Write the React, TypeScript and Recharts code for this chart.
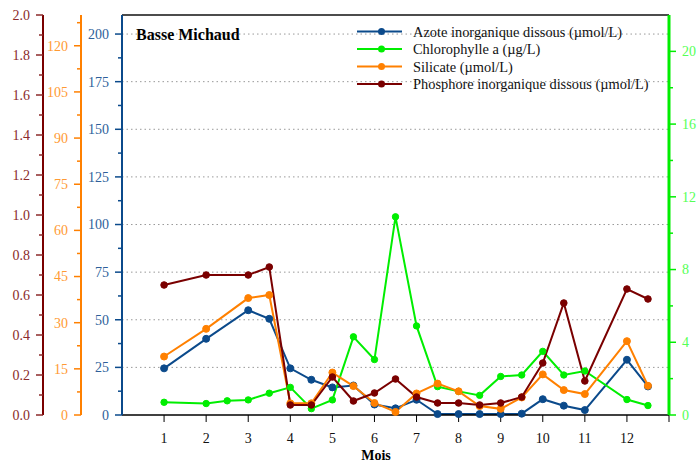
import React from 'react';
import { LineChart, Line, XAxis, YAxis, CartesianGrid, ReferenceLine, Legend, Customized } from 'recharts';

const mois = [1, 2, 3, 3.5, 4, 4.5, 5, 5.5, 6, 6.5, 7, 7.5, 8, 8.5, 9, 9.5, 10, 10.5, 11, 12, 12.5];
const azote = [24.5, 40, 55, 50.5, 24.5, 18.5, 14.5, 15.5, 5.5, 3.5, 8, 0.5, 0.5, 0.5, 0.5, 0.7, 8.3, 4.9, 2.6, 29, 15];
const silicate = [19, 28, 38, 39, 3.8, 3.8, 13.8, 9.4, 3.9, 1.0, 7.0, 10.2, 7.7, 2.9, 2.0, 5.7, 13.2, 8.1, 6.8, 24, 9.5];
const phosphore = [0.65, 0.7, 0.7, 0.74, 0.05, 0.05, 0.19, 0.07, 0.11, 0.18, 0.09, 0.06, 0.06, 0.05, 0.06, 0.09, 0.26, 0.56, 0.17, 0.63, 0.58];
const moisChl = [1, 2, 2.5, 3, 3.5, 4, 4.5, 5, 5.5, 6, 6.5, 7, 7.5, 8, 8.5, 9, 9.5, 10, 10.5, 11, 12, 12.5];
const chlorophylle = [0.7, 0.63, 0.78, 0.83, 1.2, 1.52, 0.35, 0.83, 4.3, 3.05, 10.9, 4.9, 1.56, 1.3, 1.08, 2.12, 2.2, 3.5, 2.2, 2.42, 0.85, 0.52];

const xTicks = [1, 2, 3, 4, 5, 6, 7, 8, 9, 10, 11, 12, 13];
const azoteTicks = [0, 12.5, 25, 37.5, 50, 62.5, 75, 87.5, 100, 112.5, 125, 137.5, 150, 162.5, 175, 187.5, 200];
const azoteMajor = [0, 25, 50, 75, 100, 125, 150, 175, 200];
const silicateTicks = [0, 7.5, 15, 22.5, 30, 37.5, 45, 52.5, 60, 67.5, 75, 82.5, 90, 97.5, 105, 112.5, 120, 127.5];
const silicateMajor = [0, 15, 30, 45, 60, 75, 90, 105, 120];
const phosphoreTicks = [0, 0.1, 0.2, 0.3, 0.4, 0.5, 0.6, 0.7, 0.8, 0.9, 1.0, 1.1, 1.2, 1.3, 1.4, 1.5, 1.6, 1.7, 1.8, 1.9, 2.0];
const phosphoreMajor = [0, 0.2, 0.4, 0.6, 0.8, 1.0, 1.2, 1.4, 1.6, 1.8, 2.0];
const chlTicks = [0, 2, 4, 6, 8, 10, 12, 14, 16, 18, 20];
const chlMajor = [0, 4, 8, 12, 16, 20];
const gridValues = [25, 50, 75, 100, 125, 150, 175, 200];

const titre = 'Basse Michaud';
const axeX = 'Mois';
const seriesNames = [
  'Azote inorganique dissous (µmol/L)',
  'Chlorophylle a (µg/L)',
  'Silicate (µmol/L)',
  'Phosphore inorganique dissous (µmol/L)',
];

const BLUE = '#0b4a8b';
const GREEN = '#00ee00';
const ORANGE = '#ff8000';
const RED = '#7a0000';
const seriesColors = [BLUE, GREEN, ORANGE, RED];

const mainData = mois.map((m, i) => ({ mois: m, azote: azote[i], silicate: silicate[i], phosphore: phosphore[i] }));
const chlData = moisChl.map((m, i) => ({ mois: m, chl: chlorophylle[i] }));

const FONT = 'Liberation Serif, Times New Roman, serif';
const TS = 7;
const TM = 6;

function makeTick(side: 'left' | 'right', lineColor: string, textColor: string, majors: number[], decimals: number) {
  return (props: any) => {
    const { x, y, payload } = props;
    const v = payload.value;
    const isMajor = majors.some((m) => Math.abs(m - v) < 1e-6);
    const axisX = side === 'left' ? x + TS + TM : x - TS - TM;
    const len = isMajor ? 7 : 4;
    const x1 = side === 'left' ? axisX - len : axisX + len;
    return (
      <g>
        <line x1={x1} x2={axisX} y1={y} y2={y} stroke={lineColor} strokeWidth={1.5} />
        {isMajor && (
          <text
            x={side === 'left' ? axisX - 13 : axisX + 13}
            y={y}
            dy="0.35em"
            textAnchor={side === 'left' ? 'end' : 'start'}
            fill={textColor}
            fontSize={14}
            fontFamily={FONT}
          >
            {v.toFixed(decimals)}
          </text>
        )}
      </g>
    );
  };
}

const Overlay = () => (
  <g>
    <text x={136} y={34} dy="0.35em" fontSize={16} fontWeight="bold" fontFamily={FONT} fill="#000">
      {titre}
    </text>
    <text x={376} y={460} textAnchor="middle" fontSize={14} fontWeight="bold" fontFamily={FONT} fill="#000">
      {axeX}
    </text>
  </g>
);

const LegendBox = () => (
  <svg width={330} height={80} style={{ display: 'block' }}>
    {seriesNames.map((n, i) => {
      const y = 11.5 + i * 17.5;
      return (
        <g key={n}>
          <line x1={7} x2={52} y1={y} y2={y} stroke={seriesColors[i]} strokeWidth={2} />
          <circle cx={31.5} cy={y} r={3.5} fill={seriesColors[i]} />
          <text x={63} y={y} dy="0.35em" fontSize={14.4} fontFamily={FONT} fill="#111">
            {n}
          </text>
        </g>
      );
    })}
  </svg>
);

export default function App() {
  return (
    <div style={{ width: 699, height: 464, position: 'relative', background: '#fff' }}>
      <style>{`body{margin:0}`}</style>
      <LineChart width={699} height={464} margin={{ top: 15, right: 0, bottom: 0, left: 0 }} style={{ fontFamily: FONT }}>
        <CartesianGrid
          yAxisId="a_azote"
          vertical={false}
          horizontalValues={gridValues}
          stroke="#999"
          strokeDasharray="1.5 3"
        />
        <XAxis
          dataKey="mois"
          type="number"
          domain={[0, 13]}
          ticks={xTicks}
          interval={0}
          allowDuplicatedCategory={false}
          height={49}
          tickSize={7}
          tickMargin={11}
          tickFormatter={(v: number) => (v === 13 ? '' : String(v))}
          tick={{ fill: '#111', fontSize: 14, fontFamily: FONT }}
          axisLine={{ stroke: '#000', strokeWidth: 1.5 }}
          tickLine={{ stroke: '#000' }}
        />
        <YAxis
          yAxisId="a_azote"
          orientation="left"
          domain={[0, 210]}
          ticks={azoteTicks}
          interval={0}
          width={41}
          tickSize={TS}
          tickMargin={TM}
          tickLine={false}
          axisLine={{ stroke: BLUE, strokeWidth: 2 }}
          tick={makeTick('left', BLUE, '#2e5f9a', azoteMajor, 0)}
        />
        <YAxis
          yAxisId="b_silicate"
          orientation="left"
          domain={[0, 130]}
          ticks={silicateTicks}
          interval={0}
          width={38}
          tickSize={TS}
          tickMargin={TM}
          tickLine={false}
          axisLine={{ stroke: ORANGE, strokeWidth: 2 }}
          tick={makeTick('left', ORANGE, '#ff9a33', silicateMajor, 0)}
        />
        <YAxis
          yAxisId="c_phosphore"
          orientation="left"
          domain={[0, 2]}
          ticks={phosphoreTicks}
          interval={0}
          width={43}
          tickSize={TS}
          tickMargin={TM}
          tickLine={false}
          axisLine={{ stroke: RED, strokeWidth: 2 }}
          tick={makeTick('left', '#8b2a2a', '#8b2a2a', phosphoreMajor, 1)}
        />
        <YAxis
          yAxisId="d_chl"
          orientation="right"
          domain={[0, 22]}
          ticks={chlTicks}
          interval={0}
          width={30}
          tickSize={TS}
          tickMargin={TM}
          tickLine={false}
          axisLine={{ stroke: GREEN, strokeWidth: 3 }}
          tick={makeTick('right', GREEN, '#55ff55', chlMajor, 0)}
        />
        <ReferenceLine yAxisId="a_azote" y={210} stroke="#111" strokeWidth={1.5} />
        <Line
          yAxisId="a_azote"
          data={mainData}
          dataKey="azote"
          name={seriesNames[0]}
          stroke={BLUE}
          strokeWidth={2}
          dot={{ r: 3.5, fill: BLUE, stroke: BLUE, strokeWidth: 1 }}
          isAnimationActive={false}
        />
        <Line
          yAxisId="d_chl"
          data={chlData}
          dataKey="chl"
          name={seriesNames[1]}
          stroke={GREEN}
          strokeWidth={2}
          dot={{ r: 3.2, fill: GREEN, stroke: GREEN, strokeWidth: 1 }}
          isAnimationActive={false}
        />
        <Line
          yAxisId="b_silicate"
          data={mainData}
          dataKey="silicate"
          name={seriesNames[2]}
          stroke={ORANGE}
          strokeWidth={2}
          dot={{ r: 3.5, fill: ORANGE, stroke: ORANGE, strokeWidth: 1 }}
          isAnimationActive={false}
        />
        <Line
          yAxisId="c_phosphore"
          data={mainData}
          dataKey="phosphore"
          name={seriesNames[3]}
          stroke={RED}
          strokeWidth={2}
          dot={{ r: 3.3, fill: RED, stroke: RED, strokeWidth: 1 }}
          isAnimationActive={false}
        />
        <Legend
          layout="vertical"
          align="center"
          verticalAlign="middle"
          wrapperStyle={{ position: 'absolute', left: 350, top: 20, width: 330, height: 80 }}
          content={() => <LegendBox />}
        />
        <Customized component={<Overlay />} />
      </LineChart>
    </div>
  );
}
